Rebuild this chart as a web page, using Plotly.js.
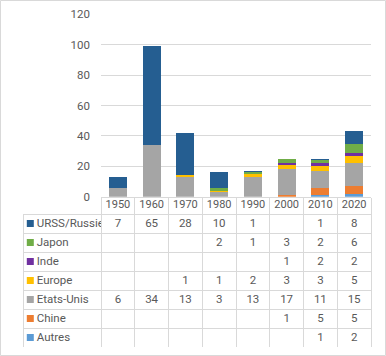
<!DOCTYPE html>
<html>
<head>
<meta charset="utf-8">
<script src="https://cdn.plot.ly/plotly-3.0.1.min.js"></script>
<style>html,body{margin:0;padding:0;background:#fff}#chart{width:386px;height:356px}</style>
</head>
<body>
<div id="chart"></div>
<script>
var years = ['1950','1960','1970','1980','1990','2000','2010','2020'];
var urss   = [7, 65, 28, 10, 1, null, 1, 8];
var japon  = [null, null, null, 2, 1, 3, 2, 6];
var inde   = [null, null, null, null, null, 1, 2, 2];
var europe = [null, null, 1, 1, 2, 3, 3, 5];
var usa    = [6, 34, 13, 3, 13, 17, 11, 15];
var chine  = [null, null, null, null, null, 1, 5, 5];
var autres = [null, null, null, null, null, null, 1, 2];

var seriesNames  = ['URSS/Russie','Japon','Inde','Europe','Etats-Unis','Chine','Autres'];
var seriesValues = [urss, japon, inde, europe, usa, chine, autres];
var seriesColors = ['#255E91','#70AD47','#7030A0','#FFC000','#A5A5A5','#ED7D31','#5B9BD5'];

var FONT = "Roboto, 'Liberation Sans', sans-serif";
var TXT = '#595959';
var GRID = '#d9d9d9';
var NB = '\u00a0';

var W = 386, H = 356;
function px(x){return x/W;}
function py(y){return 1 - y/H;}

var traces = [];
for (var i = seriesNames.length - 1; i >= 0; i--) {
  traces.push({
    type: 'bar', x: years, y: seriesValues[i], name: seriesNames[i],
    marker: {color: seriesColors[i], line: {width: 0}},
    hoverinfo: 'skip', showlegend: false
  });
}

function fmt(v){ return (v === null || v === undefined) ? '' : String(v); }
var firstCol = seriesNames.map(function(n){ return NB + NB + n; });
var columns = [firstCol];
for (var c = 0; c < years.length; c++) {
  columns.push(seriesValues.map(function(s){ return fmt(s[c]); }));
}
var aligns = ['left'].concat(years.map(function(){return 'center';}));
var widths = [78].concat(years.map(function(){return 33.75;}));
var cellFont = {family: FONT, size: 11.5, color: TXT};
var clear = {color: 'rgba(0,0,0,0)'};
var noLine = {color: 'rgba(0,0,0,0)', width: 0};

// grid of the data table (borders only)
var blankCols = columns.map(function(col){ return col.map(function(){ return ''; }); });
traces.push({
  type: 'table', domain: {x: [px(23), px(371)], y: [py(347), py(214)]}, columnwidth: widths,
  header: {values: blankCols.map(function(col){ return [col[0]]; }), align: aligns, height: 19,
    line: {color: GRID, width: 1}, fill: clear, font: cellFont},
  cells: {values: blankCols.map(function(col){ return col.slice(1); }), align: aligns, height: 19,
    line: {color: GRID, width: 1}, fill: clear, font: cellFont}
});
// texts of the data table, vertically centred in the rows
traces.push({
  type: 'table', domain: {x: [px(23), px(371)], y: [py(343), py(210)]}, columnwidth: widths,
  header: {values: columns.map(function(col){ return [col[0]]; }), align: aligns, height: 19,
    line: noLine, fill: clear, font: cellFont},
  cells: {values: columns.map(function(col){ return col.slice(1); }), align: aligns, height: 19,
    line: noLine, fill: clear, font: cellFont}
});

// legend keys of the data table
traces.push({
  type: 'scatter', mode: 'markers', xaxis: 'x2', yaxis: 'y2',
  x: seriesNames.map(function(){ return 0; }), y: seriesNames,
  marker: {symbol: 'square', size: 7, color: seriesColors, line: {width: 0}},
  cliponaxis: false, hoverinfo: 'skip', showlegend: false
});

var layout = {
  width: W, height: H,
  margin: {l: 0, r: 0, t: 0, b: 0},
  paper_bgcolor: '#ffffff', plot_bgcolor: 'rgba(0,0,0,0)',
  barmode: 'stack', bargap: 0.47,
  font: {family: FONT, size: 11, color: TXT},
  showlegend: false,
  xaxis: {
    domain: [px(101), px(371)], type: 'category',
    showline: true, linecolor: GRID, linewidth: 1,
    ticks: 'outside', tickson: 'boundaries', ticklen: 18, tickcolor: GRID, tickwidth: 1,
    tickangle: 0, ticklabelstandoff: -3,
    tickfont: {family: FONT, size: 11, color: TXT},
    showgrid: false, zeroline: false, fixedrange: true
  },
  yaxis: {
    domain: [py(196.7), py(14.3)], range: [0, 120], dtick: 20,
    showgrid: true, gridcolor: GRID, gridwidth: 1,
    showline: false, zeroline: false, ticks: '',
    ticklabelstandoff: 10,
    tickfont: {family: FONT, size: 11.5, color: TXT}, fixedrange: true
  },
  xaxis2: {domain: [px(23), px(101)], range: [-7.3, 70.7], visible: false, fixedrange: true},
  yaxis2: {domain: [py(347), py(214)], type: 'category', categoryarray: seriesNames,
    range: [6.5, -0.5], visible: false, fixedrange: true},
  shapes: [{type: 'rect', xref: 'paper', yref: 'paper', x0: px(0.5), x1: px(385.5), y0: py(355.5), y1: py(0.5),
    line: {color: GRID, width: 1}, fillcolor: 'rgba(0,0,0,0)', layer: 'below'}]
};

Plotly.newPlot('chart', traces, layout, {displayModeBar: false, staticPlot: true});
</script>
</body>
</html>
